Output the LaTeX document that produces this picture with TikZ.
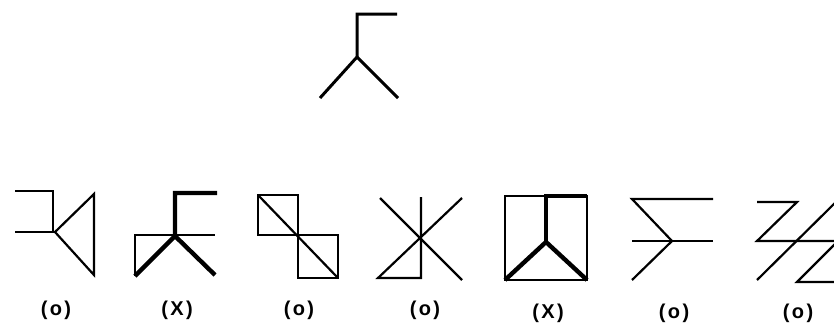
\documentclass[tikz,border=0pt]{standalone}
\usepackage{fontspec}
\newfontfamily\tagfont[LetterSpace=12]{Liberation Sans}
\begin{document}
\begin{tikzpicture}[
  x=1pt, y=-1pt,
  thinline/.style={line width=2.2pt, line join=miter},
  midline/.style={line width=3pt, line join=miter},
  boldline/.style={line width=4.4pt, line join=miter},
  tag/.style={font=\tagfont\bfseries\fontsize{20}{22}\selectfont, inner sep=0pt}
]
\clip (0,0) rectangle (834,325);

% given figure
\draw[midline] (397,14) -- (357,14) -- (357,57) -- (320,98);
\draw[midline] (357,57) -- (398,98);

% choice 1
\draw[thinline] (15,191) -- (53,191) -- (53,232);
\draw[thinline] (15,232) -- (55,232);
\draw[thinline] (55,232) -- (94,194) -- (94,275) -- cycle;
\node[tag] (t1) at (56,310) {(o)};

% choice 2
\draw[thinline] (135,276) -- (135,235) -- (215,235);
\draw[boldline] (217,193) -- (175,193) -- (175,236) -- (135,276);
\draw[boldline] (175,236) -- (215,275);
\node[tag] (t2) at (177,310) {(X)};

% choice 3
\draw[thinline] (258,195) rectangle (298,235);
\draw[thinline] (298,235) rectangle (338,278);
\draw[thinline] (258,195) -- (338,278);
\node[tag] (t3) at (299,310) {(o)};

% choice 4
\draw[thinline] (380,198) -- (462,280);
\draw[thinline] (462,198) -- (378,278) -- (421,278) -- (421,197);
\node[tag] (t4) at (425,310) {(o)};

% choice 5
\draw[thinline] (505,196) rectangle (587,280);
\draw[boldline] (505,280) -- (546,242) -- (587,280);
\draw[boldline] (546,242) -- (546,196) -- (587,196);
\node[tag] (t5) at (548,313) {(X)};

% choice 6
\draw[thinline] (713,199) -- (632,199) -- (672,241) -- (632,280);
\draw[thinline] (632,241) -- (713,241);
\node[tag] (t6) at (674,313) {(o)};

% choice 7
\draw[thinline] (757,202) -- (797,202) -- (757,241) -- (840,241);
\draw[thinline] (757,280) -- (840,198);
\draw[thinline] (838,241) -- (797,282) -- (840,282);
\node[tag] (t7) at (798,313) {(o)};
\end{tikzpicture}
\end{document}
